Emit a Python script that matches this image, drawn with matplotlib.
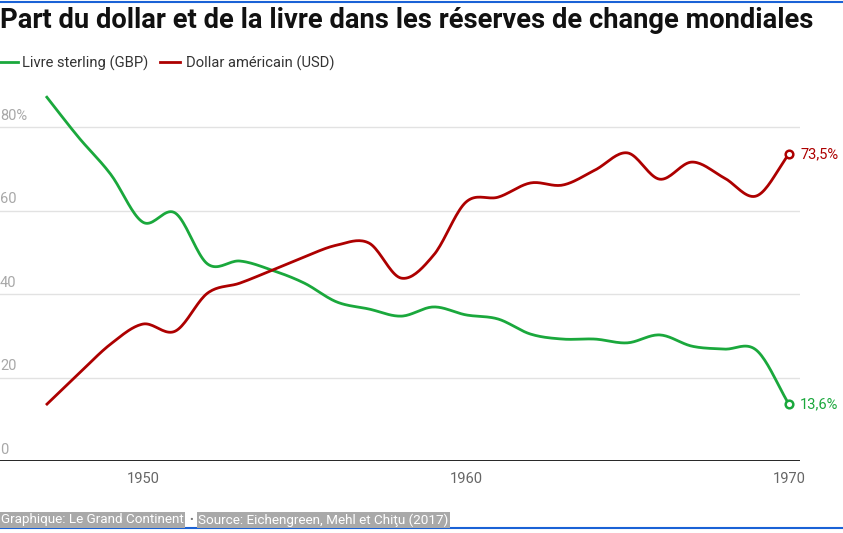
import numpy as np
import matplotlib
matplotlib.use("Agg")
import matplotlib.pyplot as plt

plt.rcParams['font.family'] = ['Roboto', 'DejaVu Sans']

# données
years = list(range(1947, 1971))
gbp = [87.4, 77.6, 68.7, 57.2, 59.4, 47.2, 47.9, 45.7, 42.6, 38.1, 36.4, 34.7,
       36.9, 35.0, 34.0, 30.4, 29.2, 29.2, 28.3, 30.2, 27.5, 26.8, 26.5, 13.6]
usd = [13.4, 20.8, 28.0, 32.8, 31.1, 40.2, 42.6, 45.7, 48.9, 51.7, 52.2, 43.8,
       49.3, 62.0, 63.2, 66.6, 66.1, 69.7, 73.8, 67.5, 71.6, 67.8, 63.5, 73.5]
yticks = [0, 20, 40, 60, 80]
ytick_labels = ["0", "20", "40", "60", "80%"]
xticks = [1950, 1960, 1970]

GREEN = '#1aa83c'
RED = '#ad0000'


def catmull_rom(x, y, n=20):
    # courbe lissée passant par les points
    x = np.asarray(x, float)
    y = np.asarray(y, float)
    px = np.concatenate([[2 * x[0] - x[1]], x, [2 * x[-1] - x[-2]]])
    py = np.concatenate([[2 * y[0] - y[1]], y, [2 * y[-1] - y[-2]]])
    xs, ys = [], []
    t = np.linspace(0, 1, n, endpoint=False)
    for i in range(1, len(px) - 2):
        for arr, out in ((px, xs), (py, ys)):
            p0, p1, p2, p3 = arr[i - 1], arr[i], arr[i + 1], arr[i + 2]
            out.extend(0.5 * (2 * p1 + (-p0 + p2) * t
                              + (2 * p0 - 5 * p1 + 4 * p2 - p3) * t ** 2
                              + (-p0 + 3 * p1 - 3 * p2 + p3) * t ** 3))
    xs.append(x[-1])
    ys.append(y[-1])
    return np.array(xs), np.array(ys)


W, H = 843, 533
fig = plt.figure(figsize=(W / 100, H / 100), dpi=100)
ax = fig.add_axes([0, (H - 461) / H, 800 / W, (461 - 90) / H])
ax.set_xlim(1947 - 46 / 32.3, 1947 + (800 - 46) / 32.3)
ax.set_ylim(0, 371 / 4.175)
for s in ax.spines.values():
    s.set_visible(False)
ax.set_xticks([])
ax.set_yticks([])
ax.patch.set_alpha(0)

for v, lab in zip(yticks, ytick_labels):
    if v == 0:
        ax.axhline(0, color='#111111', lw=2.0, zorder=3)
    else:
        ax.axhline(v, color='#e2e2e2', lw=1.0, zorder=1)
    ax.annotate(lab, xy=(0, v), xycoords=('axes fraction', 'data'),
                xytext=(0, 3), textcoords='offset points',
                ha='left', va='bottom', color='#a8a8a8', fontsize=10.5)

for xt in xticks:
    ax.annotate(str(xt), xy=(xt, 0), xycoords='data', xytext=(0, -8),
                textcoords='offset points', ha='center', va='top',
                color='#666666', fontsize=10.5)

for vals, col in ((gbp, GREEN), (usd, RED)):
    sx, sy = catmull_rom(years, vals)
    ax.plot(sx, sy, color=col, lw=2.0, solid_capstyle='butt', zorder=4)
    ax.plot(years[-1], vals[-1], 'o', ms=5.5, mfc='white', mec=col, mew=1.8, zorder=5)
    lab = f"{vals[-1]:.1f}%".replace('.', ',')
    ax.annotate(lab, xy=(years[-1], vals[-1]), xytext=(8, 0),
                textcoords='offset points', ha='left', va='center',
                color=col, fontsize=10.5, annotation_clip=False)

# titre et légende
fig.text(0, 1 - 21 / H, "Part du dollar et de la livre dans les réserves de change mondiales",
         ha='left', va='center', fontsize=19.7, fontweight='bold', color='#111111')
fig.add_artist(plt.Line2D([0, 18 / W], [1 - 62 / H] * 2, color=GREEN, lw=2))
fig.text(22 / W, 1 - 63 / H, "Livre sterling (GBP)", ha='left', va='center',
         fontsize=10.6, color='#333333')
fig.add_artist(plt.Line2D([160 / W, 180 / W], [1 - 62 / H] * 2, color=RED, lw=2))
fig.text(186 / W, 1 - 63 / H, "Dollar américain (USD)", ha='left', va='center',
         fontsize=10.6, color='#333333')

# filets bleus
fig.add_artist(plt.Line2D([0, 1], [1 - 1.5 / H] * 2, color='#1a62d6', lw=1.5))
fig.add_artist(plt.Line2D([0, 1], [1 - 528 / H] * 2, color='#1a62d6', lw=1.5))

# pied
box = dict(boxstyle='square,pad=0.1', fc='#a9a9a9', ec='none')
fig.text(1 / W, 1 - 520 / H, "Graphique: Le Grand Continent", ha='left', va='center',
         fontsize=9.7, color='white', bbox=box)
fig.text(189 / W, 1 - 520 / H, "•", ha='left', va='center', fontsize=8, color='#777777')
fig.text(198 / W, 1 - 520 / H, "Source: Eichengreen, Mehl et Chiţu (2017)", ha='left',
         va='center', fontsize=9.7, color='white', bbox=box)

fig.savefig("out.png", dpi=100)
